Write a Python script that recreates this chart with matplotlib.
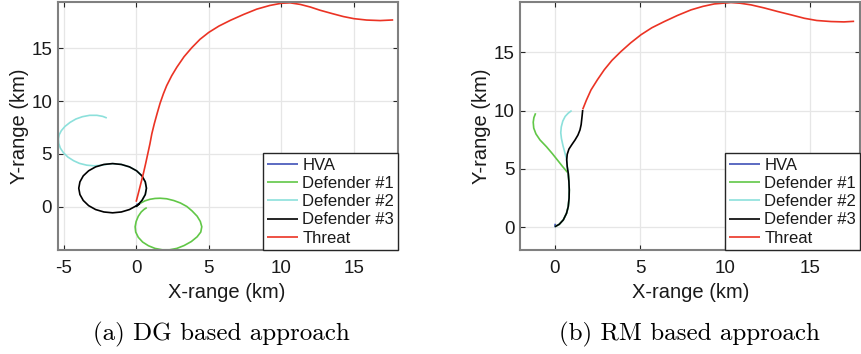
import matplotlib
matplotlib.use("Agg")
import matplotlib.pyplot as plt

plt.rcParams['font.family'] = ['Liberation Sans', 'DejaVu Sans']
plt.rcParams['axes.unicode_minus'] = False

series_names = ["HVA", "Defender #1", "Defender #2", "Defender #3", "Threat"]
series_colors = [(0.25, 0.32, 0.72), (0.38, 0.78, 0.28), (0.55, 0.88, 0.86), (0.0, 0.0, 0.0), (0.92, 0.2, 0.14)]
captions = ["(a) DG based approach", "(b) RM based approach"]
x_ticks = [-5, 0, 5, 10, 15]
y_ticks = [0, 5, 10, 15]

# ---- (a) DG based approach ----
a_hva_x = [0.0, 0.05, 0.1]
a_hva_y = [0.0, 0.15, 0.3]
a_d1_x = [0.0, 0.28, 0.6, 0.95, 1.3, 1.65, 2.1, 2.6, 3.05, 3.49, 3.85, 4.2, 4.42, 4.52, 4.45, 4.2, 3.8, 3.3, 2.8,
          2.3, 1.8, 1.3, 0.85, 0.45, 0.15, -0.03, -0.07, 0.0, 0.15, 0.35, 0.55, 0.73]
a_d1_y = [0.0, 0.32, 0.55, 0.7, 0.78, 0.8, 0.75, 0.58, 0.35, 0.02, -0.4, -0.9, -1.4, -1.9, -2.4, -2.85, -3.3, -3.68,
          -3.95, -4.08, -4.08, -3.95, -3.7, -3.35, -2.9, -2.4, -1.9, -1.4, -0.9, -0.5, -0.25, -0.09]
a_d2_x = [0.0, 0.4, 0.63, 0.71, 0.63, 0.4, 0.03, -0.46, -1.02, -1.62, -2.0, -2.4, -2.9, -3.4, -3.9, -4.3, -4.7, -5.0,
          -5.22, -5.33, -5.35, -5.3, -5.15, -4.9, -4.55, -4.15, -3.7, -3.2, -2.7, -2.3, -2.02]
a_d2_y = [0.0, 0.59, 1.15, 1.75, 2.35, 2.92, 3.4, 3.77, 4.0, 4.08, 4.02, 3.92, 3.87, 3.93, 4.1, 4.35, 4.7, 5.1,
          5.55, 6.0, 6.4, 6.8, 7.2, 7.6, 7.98, 8.3, 8.52, 8.65, 8.65, 8.55, 8.4]
a_d3_x = [0.0, 0.2, 0.4, 0.63, 0.71, 0.63, 0.4, 0.03, -0.46, -1.02, -1.62, -2.22, -2.79, -3.27, -3.64, -3.87, -3.95,
          -3.87, -3.64, -3.27, -2.79, -2.22, -1.62, -1.02, -0.46, 0.03, 0.25]
a_d3_y = [0.0, 0.28, 0.59, 1.15, 1.75, 2.35, 2.92, 3.4, 3.77, 4.0, 4.08, 4.0, 3.77, 3.4, 2.92, 2.35, 1.75,
          1.15, 0.59, 0.1, -0.27, -0.5, -0.58, -0.5, -0.27, 0.1, 0.3]
a_thr_x = [0.0, 0.12, 0.25, 0.37, 0.5, 0.65, 0.8, 0.95, 1.08, 1.25, 1.45, 1.65, 1.88, 2.1, 2.45, 2.8, 3.3, 3.83, 4.4,
           5.0, 5.7, 6.5, 7.4, 8.3, 9.2, 10.0, 10.6, 11.3, 12.0, 12.66, 13.5, 14.27, 15.0, 15.87, 16.8, 17.7]
a_thr_y = [0.47, 1.1, 1.8, 2.45, 3.15, 4.05, 5.0, 5.95, 6.9, 7.85, 8.85, 9.8, 10.7, 11.45, 12.4, 13.2, 14.2, 15.05, 15.85,
           16.5, 17.1, 17.65, 18.2, 18.7, 19.05, 19.26, 19.3, 19.15, 18.9, 18.6, 18.28, 18.0, 17.8, 17.67, 17.62, 17.68]

# ---- (b) RM based approach ----
b_hva_x = [0.0, 0.0, 0.02]
b_hva_y = [0.0, 0.15, 0.3]
b_d1_x = [0.0, 0.25, 0.49, 0.68, 0.78, 0.83, 0.84, 0.82, 0.78, 0.45, 0.15, -0.15, -0.5, -0.88, -1.12, -1.25, -1.28,
          -1.24, -1.14]
b_d1_y = [0.05, 0.25, 0.63, 1.2, 1.77, 2.5, 3.2, 3.9, 4.63, 5.2, 5.75, 6.3, 6.9, 7.48, 8.0, 8.5, 9.0, 9.4, 9.77]
b_d2_x = [0.0, 0.25, 0.49, 0.68, 0.78, 0.83, 0.84, 0.82, 0.78, 0.72, 0.69, 0.58, 0.47, 0.38, 0.34, 0.37, 0.46, 0.6,
          0.78, 0.98]
b_d2_y = [0.05, 0.25, 0.63, 1.2, 1.77, 2.5, 3.2, 3.9, 4.63, 5.2, 5.77, 6.4, 7.0, 7.6, 8.1, 8.6, 9.1, 9.5, 9.78, 10.0]
b_d3_x = [0.0, 0.25, 0.49, 0.68, 0.78, 0.83, 0.84, 0.82, 0.78, 0.72, 0.69, 0.72, 0.82, 1.0, 1.18, 1.35, 1.47, 1.54,
          1.57, 1.6, 1.63]
b_d3_y = [0.05, 0.25, 0.63, 1.2, 1.77, 2.5, 3.2, 3.9, 4.63, 5.2, 5.77, 6.25, 6.7, 7.1, 7.48, 7.9, 8.34, 8.8, 9.2,
          9.6, 10.05]
b_thr_x = [1.63, 1.85, 2.12, 2.5, 2.9, 3.35, 3.88, 4.45, 5.06, 5.7, 6.43, 7.2, 8.0, 8.7, 9.37, 10.35, 10.9, 11.53,
           12.3, 13.1, 13.9, 14.67, 15.4, 16.24, 17.0, 17.6]
b_thr_y = [10.1, 10.9, 11.77, 12.65, 13.5, 14.3, 15.06, 15.8, 16.5, 17.1, 17.63, 18.15, 18.63, 18.93, 19.14, 19.26,
           19.2, 19.06, 18.8, 18.49, 18.2, 17.91, 17.72, 17.63, 17.6, 17.65]

panels = [
    dict(data=[(a_hva_x, a_hva_y), (a_d1_x, a_d1_y), (a_d2_x, a_d2_y), (a_d3_x, a_d3_y), (a_thr_x, a_thr_y)],
         xlim=(-5.4, 18.05), ylim=(-4.1, 19.35), xticks=x_ticks, rect=[57.7, 2.3, 340.6, 247.7]),
    dict(data=[(b_hva_x, b_hva_y), (b_d1_x, b_d1_y), (b_d2_x, b_d2_y), (b_d3_x, b_d3_y), (b_thr_x, b_thr_y)],
         xlim=(-2.04, 17.96), ylim=(-1.95, 19.28), xticks=x_ticks[1:], rect=[520.3, 2.3, 340.0, 247.7]),
]

W, H = 862, 354
fig = plt.figure(figsize=(W / 100, H / 100), dpi=100)

for i, p in enumerate(panels):
    l, t, w, h = p['rect']
    ax = fig.add_axes([l / W, 1 - (t + h) / H, w / W, h / H])
    for (xs, ys), name, col in zip(p['data'], series_names, series_colors):
        ax.plot(xs, ys, color=col, lw=1.2, label=name, solid_capstyle='butt', solid_joinstyle='round')
    ax.set_xlim(*p['xlim'])
    ax.set_ylim(*p['ylim'])
    ax.set_xticks(p['xticks'])
    ax.set_yticks(y_ticks)
    ax.grid(True, color=(0.9, 0.9, 0.9), lw=0.9)
    ax.set_axisbelow(True)
    for s in ax.spines.values():
        s.set_color((0.5, 0.5, 0.5))
        s.set_linewidth(1.5)
    ax.tick_params(direction='in', length=3.5, width=0.8, color=(0.15, 0.15, 0.15),
                   top=True, right=True, labelsize=13.5, pad=7, labelcolor=(0.1, 0.1, 0.1))
    ax.tick_params(axis='y', pad=4)
    ax.set_xlabel("X-range (km)", fontsize=14.5, color=(0.1, 0.1, 0.1))
    ax.set_ylabel("Y-range (km)", fontsize=14.5, color=(0.1, 0.1, 0.1))
    ax.xaxis.set_label_coords(0.5 if i == 1 else 0.497, -0.135)
    ax.yaxis.set_label_coords(-0.085, 0.5)
    leg = ax.legend(loc='lower right', borderaxespad=0, fontsize=12, frameon=True, fancybox=False,
                    handlelength=1.85, handletextpad=0.25, borderpad=0.25, labelspacing=0.2)
    leg.get_frame().set_edgecolor((0.15, 0.15, 0.15))
    leg.get_frame().set_linewidth(1.0)
    leg.get_frame().set_alpha(1.0)
    for txt in leg.get_texts():
        txt.set_color((0.1, 0.1, 0.1))
    fig.text((221 if i == 0 else 689) / W, 1 - 334 / H, captions[i], family='cmr10',
             fontsize=18, ha='center', va='center')

fig.savefig("out.png", dpi=100)
